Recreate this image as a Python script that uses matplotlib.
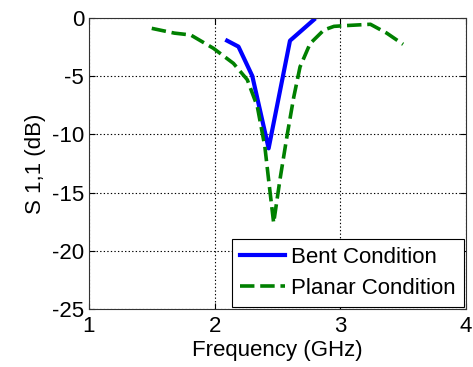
import matplotlib
matplotlib.use("Agg")
import matplotlib.pyplot as plt

# S11 curves, frequency in GHz, magnitude in dB
bent_f = [2.10, 2.19, 2.30, 2.43, 2.60, 2.79]
bent_s = [-1.95, -2.46, -4.98, -11.2, -1.95, -0.15]

planar_f = [1.50, 1.68, 1.81, 1.99, 2.15, 2.26, 2.34, 2.40, 2.43, 2.47,
            2.52, 2.58, 2.63, 2.68, 2.76, 2.87, 2.95, 3.05, 3.24, 3.37, 3.50]
planar_s = [-0.89, -1.30, -1.46, -2.6, -3.9, -5.3, -7.6, -11.05, -13.9, -17.6,
            -13.9, -9.9, -6.8, -4.2, -2.2, -1.03, -0.72, -0.65, -0.54, -1.3, -2.26]

plt.rcParams["font.family"] = ["Liberation Sans", "DejaVu Sans"]
plt.rcParams["axes.unicode_minus"] = False

fig = plt.figure(figsize=(4.73, 3.67), dpi=100)
ax = fig.add_axes([0.188, 0.158, 0.797, 0.793])

ax.plot(bent_f, bent_s, color="#0000ff", lw=3.0, label="Bent Condition")
ax.plot(planar_f, planar_s, color="#008000", lw=2.6, ls=(0, (4, 1.6)),
        label="Planar Condition")

ax.set_xlim(1, 4)
ax.set_ylim(-25, 0)
ax.set_xticks([1, 2, 3, 4])
ax.set_yticks([-25, -20, -15, -10, -5, 0])
ax.grid(True, color="black", ls=(0, (1.2, 2.0)), lw=0.8)
ax.tick_params(direction="in", labelsize=16, length=4, top=True, right=True)
ax.tick_params(axis="x", pad=5)
for s in ax.spines.values():
    s.set_color("#333333")
    s.set_linewidth(0.8)

ax.set_xlabel("Frequency (GHz)", fontsize=16, labelpad=2)
ax.set_ylabel("S 1,1 (dB)", fontsize=16, labelpad=4)

leg = ax.legend(loc="lower right", fontsize=16, fancybox=False, framealpha=1,
                edgecolor="black", borderaxespad=0.1, handlelength=2.0,
                handletextpad=0.3, borderpad=0.35, labelspacing=0.45)
leg.get_frame().set_linewidth(0.8)

fig.savefig("out.png", dpi=100)
